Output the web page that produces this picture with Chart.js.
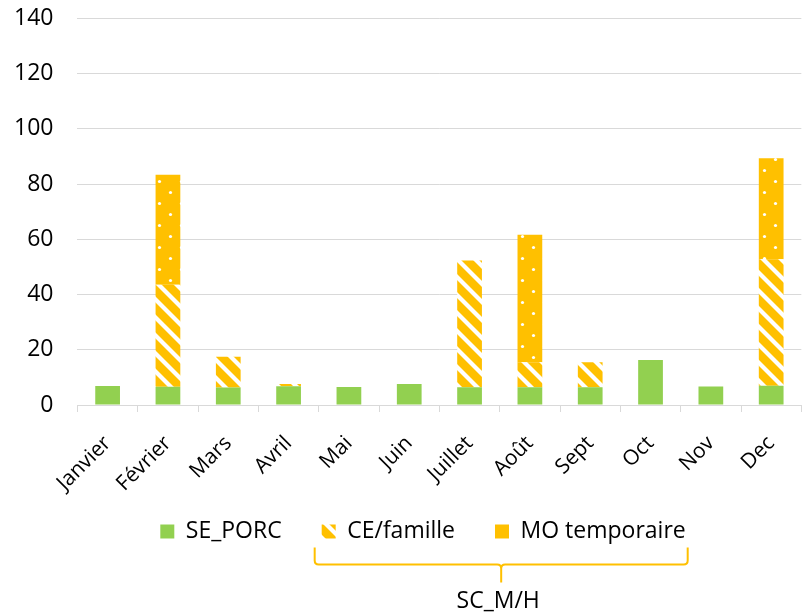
<!DOCTYPE html>
<html>
<head>
<meta charset="utf-8">
<script src="https://cdn.jsdelivr.net/npm/chart.js@4"></script>
<style>
  html, body { margin: 0; padding: 0; background: #ffffff; }
  #wrap { width: 808px; height: 616px; }
</style>
</head>
<body>
<div id="wrap"><canvas id="chart" width="808" height="616"></canvas></div>
<script>
// Monthly workload, stacked by labour source
const months = ['Janvier', 'Février', 'Mars', 'Avril', 'Mai', 'Juin', 'Juillet', 'Août', 'Sept', 'Oct', 'Nov', 'Dec'];
const sePorc       = [6.9, 6.6, 6.3, 6.8, 6.5, 7.6, 6.4, 6.4, 6.4, 16.3, 6.7, 7.0];
const ceFamille    = [0, 37.0, 11.2, 0.8, 0, 0, 45.9, 9.1, 9.1, 0, 0, 45.8];
const moTemporaire = [0, 39.8, 0, 0, 0, 0, 0, 46.2, 0, 0, 0, 36.6];
const seriesNames  = ['SE_PORC', 'CE/famille', 'MO temporaire'];
const yTickValues  = [0, 20, 40, 60, 80, 100, 120, 140];
const groupLabel   = 'SC_M/H';

const GREEN = '#92D050';
const ORANGE = '#FFC000';
const GRID = '#D9D9D9';
const FONT = { family: "'Open Sans'", size: 23 };
const XFONT = { family: "'Open Sans'", size: 21 };

const canvas = document.getElementById('chart');
const ctx = canvas.getContext('2d');

// wide downward diagonal stripes, white on orange
function stripeFill() {
  const s = 18;
  const tile = document.createElement('canvas');
  tile.width = tile.height = s;
  const g = tile.getContext('2d');
  g.fillStyle = ORANGE;
  g.fillRect(0, 0, s, s);
  g.strokeStyle = '#ffffff';
  g.lineWidth = 4.2;
  for (const k of [-s, 0, s]) {
    g.beginPath();
    g.moveTo(k - 3, -3);
    g.lineTo(k + s + 3, s + 3);
    g.stroke();
  }
  return ctx.createPattern(tile, 'repeat');
}

// small staggered white dots on orange
function dotFill() {
  const w = 22, h = 22;
  const tile = document.createElement('canvas');
  tile.width = w; tile.height = h;
  const g = tile.getContext('2d');
  g.fillStyle = ORANGE;
  g.fillRect(0, 0, w, h);
  g.fillStyle = '#ffffff';
  for (const [x, y] of [[5.5, 5.5], [16.5, 16.5]]) {
    g.beginPath();
    g.arc(x, y, 1.6, 0, Math.PI * 2);
    g.fill();
  }
  return ctx.createPattern(tile, 'repeat');
}

const LEGEND_DX = 12;
const LEGEND_DY = -25;

// moves the legend row right of centre and up toward the axis labels
// (hit boxes are recomputed from these edges by the legend itself)
const legendShift = {
  id: 'legendShift',
  afterLayout(chart) {
    const lg = chart.legend;
    if (!lg) return;
    lg.left += LEGEND_DX;
    lg.right += LEGEND_DX;
    lg.top += LEGEND_DY;
    lg.bottom += LEGEND_DY;
  }
};

// curly bracket grouping the two SC_M/H series under the legend
const groupBracket = {
  id: 'groupBracket',
  afterDraw(chart) {
    const boxes = chart.legend && chart.legend.legendHitBoxes;
    if (!boxes || boxes.length < 3) return;
    const a = boxes[1], b = boxes[2];
    const L = a.left - 7;
    const R = b.left + b.width + 2;
    const C = (L + R) / 2;
    const cy = a.top + a.height / 2;
    const yTop = cy + 16;
    const yMid = cy + 33;
    const yTip = cy + 51;
    const r = 4;
    const c = chart.ctx;
    c.save();
    c.strokeStyle = ORANGE;
    c.lineWidth = 2;
    c.lineJoin = 'round';
    c.beginPath();
    c.moveTo(L, yTop);
    c.lineTo(L, yMid - r);
    c.quadraticCurveTo(L, yMid, L + r, yMid);
    c.lineTo(C - r, yMid);
    c.quadraticCurveTo(C, yMid, C, yMid + r);
    c.lineTo(C, yTip);
    c.moveTo(C, yMid + r);
    c.quadraticCurveTo(C, yMid, C + r, yMid);
    c.lineTo(R - r, yMid);
    c.quadraticCurveTo(R, yMid, R, yMid - r);
    c.lineTo(R, yTop);
    c.stroke();
    c.fillStyle = '#000000';
    c.font = `${FONT.size}px ${FONT.family}`;
    c.textAlign = 'center';
    c.textBaseline = 'middle';
    c.fillText(groupLabel, C - 3, cy + 70);
    c.restore();
  }
};

const defaultLabels = Chart.defaults.plugins.legend.labels.generateLabels;

new Chart(ctx, {
  type: 'bar',
  data: {
    labels: months,
    datasets: [
      { label: seriesNames[0], data: sePorc, backgroundColor: GREEN },
      { label: seriesNames[1], data: ceFamille, backgroundColor: stripeFill() },
      { label: seriesNames[2], data: moTemporaire, backgroundColor: dotFill() }
    ]
  },
  options: {
    responsive: false,
    animation: false,
    devicePixelRatio: 1,
    layout: { padding: { top: 0, left: 14, right: 0, bottom: 38 } },
    datasets: {
      bar: { categoryPercentage: 1.0, barPercentage: 0.41, borderWidth: 0 }
    },
    scales: {
      x: {
        stacked: true,
        afterFit(scale) {
          scale.paddingLeft = 0;
          scale.height = 100;
        },
        grid: { offset: true, drawOnChartArea: false, drawTicks: true, tickLength: 7, color: GRID },
        border: { display: true, color: GRID, width: 1 },
        ticks: { color: '#000000', font: XFONT, minRotation: 45, maxRotation: 45, padding: 19, autoSkip: false }
      },
      y: {
        stacked: true,
        min: 0,
        max: 140,
        afterBuildTicks(scale) { scale.ticks = yTickValues.map(v => ({ value: v })); },
        afterFit(scale) {
          scale.paddingTop = 18.5;
          scale.width -= scale.options.ticks.padding;
        },
        grid: { color: GRID, lineWidth: 1, drawTicks: false },
        border: { display: false },
        ticks: { color: '#000000', font: FONT, padding: 24 }
      }
    },
    plugins: {
      tooltip: { enabled: false },
      legend: {
        position: 'bottom',
        labels: {
          color: '#000000',
          font: FONT,
          boxWidth: 14,
          boxHeight: 14,
          padding: 40,
          generateLabels(chart) {
            const items = defaultLabels(chart);
            items.forEach((it, i) => {
              it.lineWidth = 0;
              if (i === 2) it.fillStyle = ORANGE;
            });
            return items;
          }
        }
      }
    }
  },
  plugins: [legendShift, groupBracket]
});
</script>
</body>
</html>
